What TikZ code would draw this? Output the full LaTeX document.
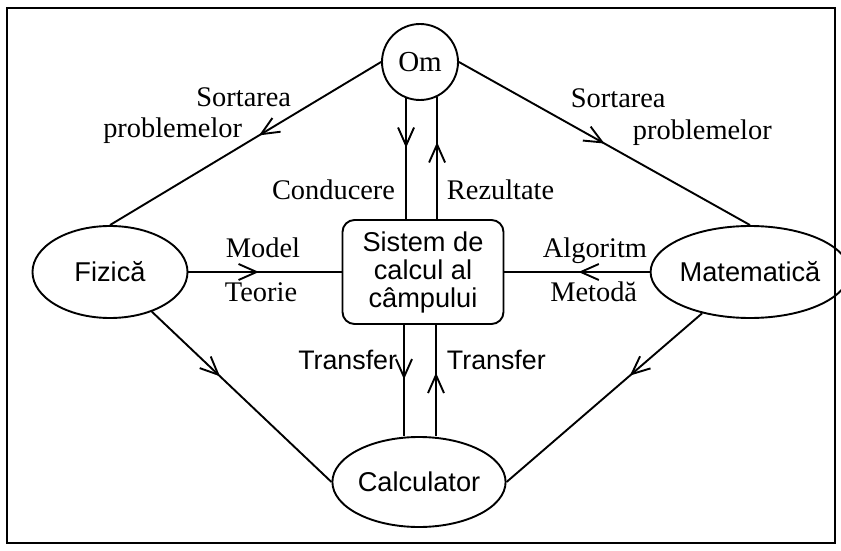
\documentclass[tikz,border=0pt]{standalone}
\usepackage{fontspec}
\setmainfont{Liberation Serif}
\setsansfont{Liberation Sans}
\usetikzlibrary{shapes,arrows.meta,positioning,calc,decorations.markings}

\begin{document}
\begin{tikzpicture}[
  x=0.5pt, y=-0.5pt,
  line width=0.95pt,
  rlabel/.style={font=\fontsize{14.2}{15}\selectfont, inner sep=0pt, text height=0.7em, text depth=0.22em},
  slabel/.style={font=\sffamily\fontsize{13.4}{14}\selectfont, inner sep=0pt, text height=0.7em, text depth=0.22em},
  blob/.style={ellipse, draw, inner sep=0pt, font=\sffamily\fontsize{13.6}{15}\selectfont},
  midarrow/.style={postaction={decorate}, decoration={markings, mark=at position #1 with {\arrow{Straight Barb[length=9pt,width=8pt]}}}}
]
  \useasboundingbox (0,0) rectangle (841,551);
  \draw[line width=1.1pt] (7,8) rectangle (835,543);

  % nodes
  \node[circle, draw, minimum size=38pt, inner sep=0pt, font=\fontsize{14.5}{15}\selectfont] (om) at (420,62) {Om};
  \node[blob, minimum width=77.5pt, minimum height=46pt] (fizica) at (110,272) {Fizică};
  \node[blob, minimum width=75pt, minimum height=46pt] (matematica) at (750,272) {Matematică};
  \node[blob, minimum width=77pt, minimum height=45pt] (calculator) at (419,482) {Calculator};
  \node[draw, rounded corners=6pt, minimum width=80.5pt, minimum height=52pt, align=center,
        font=\sffamily\fontsize{13.6}{14}\selectfont] (sistem) at (423,272) {Sistem de\\calcul al\\câmpului};

  \coordinate (tl) at ([xshift=-7.5pt]calculator.north);
  \coordinate (tr) at ([xshift=8.5pt]calculator.north);

  % connectors
  \draw[midarrow=0.45] (om.west) -- (fizica.north);
  \draw[midarrow=0.5] (om.east) -- (matematica.north);
  \draw[midarrow=0.38] (fizica) -- (calculator.west);
  \draw[midarrow=0.37] (matematica) -- (calculator.east);
  \draw[midarrow=0.46] (fizica) -- (sistem);
  \draw[midarrow=0.49] (matematica) -- (sistem);
  \draw[midarrow=0.41] (om.-111) -- (om.-111 |- sistem.north);
  \draw[midarrow=0.63] (om.-64 |- sistem.north) -- (om.-64);
  \draw[midarrow=0.49] (tl |- sistem.south) -- (tl);
  \draw[midarrow=0.57] (tr) -- (tr |- sistem.south);

  % labels
  \node[rlabel, anchor=east] (sortL1) at (292,102) {Sortarea};
  \node[rlabel, anchor=east] (sortL2) at (243,133) {problemelor};
  \node[rlabel, anchor=west] (sortR1) at (570,103) {Sortarea};
  \node[rlabel, anchor=west] (sortR2) at (632,135) {problemelor};
  \node[rlabel, anchor=east] (cond) at (396,195) {Conducere};
  \node[rlabel, anchor=west] (rez) at (446,195) {Rezultate};
  \node[rlabel, anchor=west] (model) at (225,253) {Model};
  \node[rlabel, anchor=west] (teorie) at (224,297) {Teorie};
  \node[rlabel, anchor=east] (algo) at (648,253) {Algoritm};
  \node[rlabel, anchor=east] (metoda) at (638,297) {Metodă};
  \node[slabel, anchor=east] (trL) at (398,365) {Transfer};
  \node[slabel, anchor=west] (trR) at (446,365) {Transfer};
\end{tikzpicture}
\end{document}
